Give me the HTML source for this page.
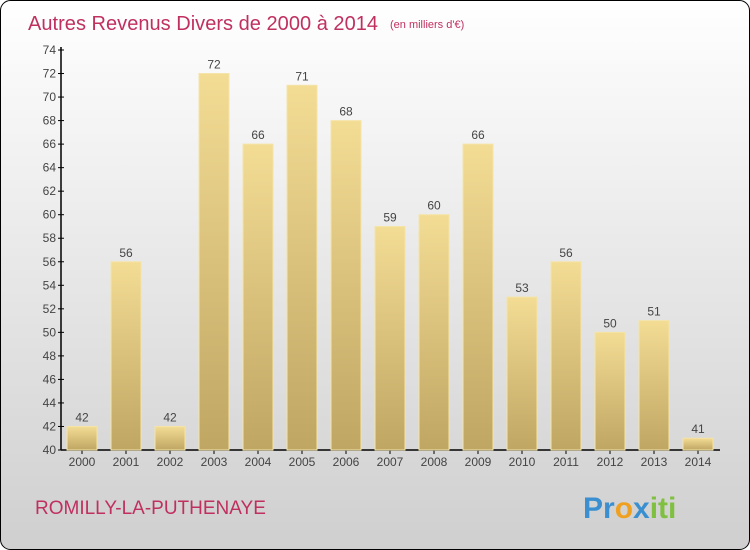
<!DOCTYPE html>
<html><head><meta charset="utf-8"><style>
body{margin:0;width:750px;height:550px;overflow:hidden}
svg{display:block;font-family:"Liberation Sans",sans-serif}
</style></head><body>
<svg width="750" height="550" viewBox="0 0 750 550">
<defs>
<linearGradient id="bg" x1="0" y1="0" x2="0" y2="1"><stop offset="0" stop-color="#ffffff"/><stop offset="1" stop-color="#cfcfcf"/></linearGradient>
<linearGradient id="bar" x1="0" y1="0" x2="0" y2="1"><stop offset="0" stop-color="#f3dc94"/><stop offset="1" stop-color="#bfa663"/></linearGradient>
</defs>
<rect x="0.5" y="0.5" width="749" height="549" rx="10" fill="url(#bg)" stroke="#000"/>
<text x="28" y="30" font-size="20" fill="#c0305f" textLength="350">Autres Revenus Divers de 2000 à 2014</text>
<text x="390" y="28" font-size="11" fill="#c0305f">(en milliers d'€)</text>
<g id="axes"></g>
<g id="bars"></g>
<text x="35" y="514" font-size="19" fill="#c0305f">ROMILLY-LA-PUTHENAYE</text>
<text x="583" y="518" font-size="30" font-weight="bold"><tspan fill="#3a8fd0">Pr</tspan><tspan fill="#f0a020">o</tspan><tspan fill="#3a8fd0">x</tspan><tspan fill="#80c040">iti</tspan></text>
</svg>
<script>
const categories=["2000","2001","2002","2003","2004","2005","2006","2007","2008","2009","2010","2011","2012","2013","2014"];
const values=[42,56,42,72,66,71,68,59,60,66,53,56,50,51,41];
const yTicks=[40,42,44,46,48,50,52,54,56,58,60,62,64,66,68,70,72,74];
const NS="http://www.w3.org/2000/svg";
const yMin=40,yMax=74,y0=450,y1=50;
const yS=v=>y0-(v-yMin)/(yMax-yMin)*(y0-y1);
const xS=i=>82+i*44;
function mk(t,a,p){const e=document.createElementNS(NS,t);for(const k in a)e.setAttribute(k,a[k]);p.appendChild(e);return e;}
const ax=document.getElementById('axes'),bg=document.getElementById('bars');
let l=mk('line',{x1:61,y1:y1-3,x2:61,y2:y0,stroke:'#000','stroke-width':1.5},ax);


l=mk('line',{x1:61,y1:y0,x2:720,y2:y0,stroke:'#000','stroke-width':1.5},ax);


yTicks.forEach(v=>{
  const y=yS(v);
  mk('line',{x1:58,y1:y,x2:64,y2:y,stroke:'#000'},ax);
  const t=mk('text',{x:56,y:y+4,'font-size':12,fill:'#444','text-anchor':'end'},ax);
  t.textContent=v;
  
  
});
categories.forEach((c,i)=>{
  const x=xS(i),v=values[i],y=yS(v);
  const r=mk('rect',{x:x-15,y:y,width:30,height:y0-y,fill:'url(#bar)',stroke:'#f5e4a8','stroke-width':1},bg);
  
  
  const t=mk('text',{x:x,y:y-5,'font-size':12,fill:'#444','text-anchor':'middle'},bg);
  t.textContent=v;
  
  
  mk('line',{x1:x,y1:y0,x2:x,y2:y0+4,stroke:'#000'},ax);
  const c2=mk('text',{x:x,y:y0+16,'font-size':12,fill:'#444','text-anchor':'middle'},ax);
  c2.textContent=c;
  
  
});
</script>
</body></html>
